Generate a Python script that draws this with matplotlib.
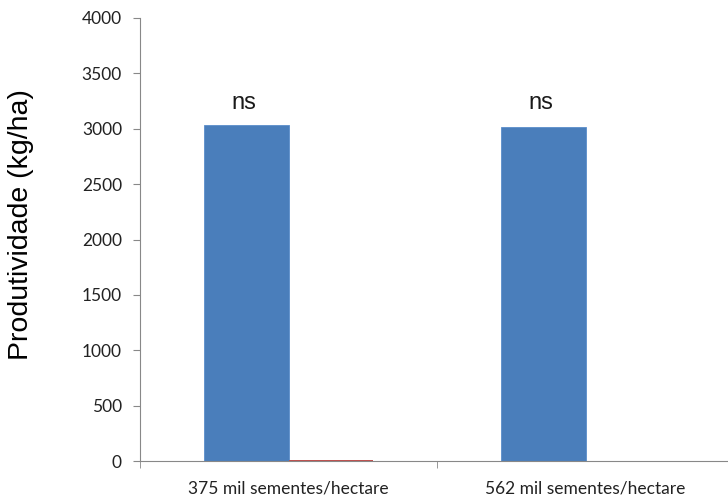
import matplotlib
matplotlib.use("Agg")
import matplotlib.pyplot as plt
import numpy as np

categorias = ["375 mil sementes/hectare", "562 mil sementes/hectare"]
serie_azul = [3030, 3015]
serie_vermelha = [12, 0]
rotulos = ["ns", "ns"]

fig = plt.figure(figsize=(7.28, 4.96), dpi=100)
ax = fig.add_axes([140/728, 35/496, 594/728, 443/496])

x = np.arange(len(categorias))
w = 0.283
ax.bar(x - w/2, serie_azul, width=w, color="#4A7EBB", edgecolor="#5B8ECB", linewidth=0.6)
ax.bar(x + w/2, serie_vermelha, width=w, color="#C0504D", linewidth=0)

# "ns" sits at the same height above both groups
for xi, r in zip(x, rotulos):
    ax.text(xi - w/2 - 0.01, max(serie_azul) + 205, r, ha="center", va="center",
            fontsize=17, family="Liberation Sans", color="#1a1a1a")

ax.set_xlim(-0.5, 1.5)
ax.set_ylim(0, 4000)
ax.set_yticks(np.arange(0, 4001, 500))
ax.set_xticks(x)
ax.set_xticklabels(categorias, family="Lato", fontsize=12.5, color="#222222")
ax.set_xticks([-0.5, 0.5, 1.5], minor=True)
ax.tick_params(axis="x", which="major", length=0, pad=14)
ax.tick_params(axis="x", which="minor", length=5, color="#888888")
ax.tick_params(axis="y", length=5, color="#888888", labelsize=12.5, labelcolor="#222222", pad=8)
for lab in ax.get_yticklabels():
    lab.set_family("Lato")

for s in ["top", "right"]:
    ax.spines[s].set_visible(False)
for s in ["left", "bottom"]:
    ax.spines[s].set_color("#888888")
    ax.spines[s].set_linewidth(0.8)

ax.set_ylabel("Produtividade (kg/ha)", family="Liberation Sans", fontsize=20.5)
ax.yaxis.set_label_coords(-0.178, 0.533)

fig.savefig("out.png", dpi=100)
